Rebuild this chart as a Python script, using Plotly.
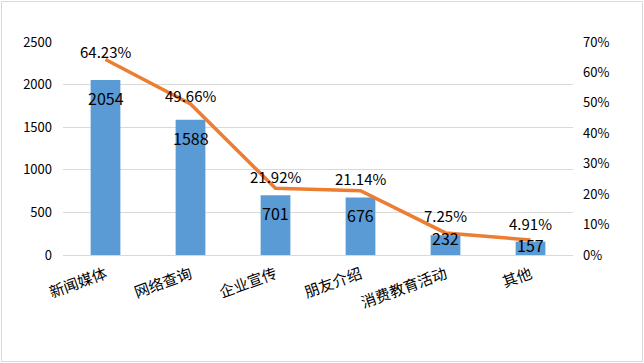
import plotly.graph_objects as go

categories = ["新闻媒体", "网络查询", "企业宣传", "朋友介绍", "消费教育活动", "其他"]
counts = [2054, 1588, 701, 676, 232, 157]
percents = [0.6423, 0.4966, 0.2192, 0.2114, 0.0725, 0.0491]
pct_labels = ["64.23%", "49.66%", "21.92%", "21.14%", "7.25%", "4.91%"]

font_family = "Noto Sans CJK SC, Microsoft YaHei, sans-serif"

fig = go.Figure()
fig.add_trace(go.Bar(
    x=categories, y=counts,
    marker=dict(color="#5B9BD5", line=dict(width=0)),
    yaxis="y", showlegend=False, hoverinfo="x+y",
))
fig.add_trace(go.Scatter(
    x=categories, y=percents, mode="lines",
    line=dict(color="#ED7D31", width=3.5),
    cliponaxis=False, yaxis="y2", showlegend=False,
))

annotations = []
# bar value labels: inside the top of the bar; short bars keep the label on the bar top
for cat, val in zip(categories, counts):
    shift = -18 if val > 400 else -3
    annotations.append(dict(
        x=cat, y=val, xref="x", yref="y", text=str(val), showarrow=False,
        yshift=shift, font=dict(size=16, color="#000000", family=font_family),
    ))
# line value labels above the points
for cat, p, lab in zip(categories, percents, pct_labels):
    if p > 0.4:
        shift = 8
    elif p > 0.15:
        shift = 12
    else:
        shift = 17
    annotations.append(dict(
        x=cat, y=p, xref="x", yref="y2", text=lab, showarrow=False,
        yshift=shift, font=dict(size=15, color="#000000", family=font_family),
    ))

fig.update_layout(
    width=644, height=363,
    margin=dict(l=63, r=71, t=42, b=108),
    paper_bgcolor="white", plot_bgcolor="white",
    bargap=0.65,
    font=dict(family=font_family, color="#000000"),
    annotations=annotations,
    xaxis=dict(
        tickangle=-20, tickfont=dict(size=15, family=font_family),
        showgrid=False, showline=True, linecolor="#D9D9D9", linewidth=1,
        ticks="", automargin=False, ticklabelstandoff=4,
    ),
    yaxis=dict(
        range=[0, 2500], dtick=500, tickfont=dict(size=13, family=font_family),
        showgrid=True, gridcolor="#D9D9D9", gridwidth=1, zeroline=False,
        ticklabelstandoff=10, automargin=False,
    ),
    yaxis2=dict(
        range=[0, 0.7], dtick=0.1, tickformat=".0%", overlaying="y", side="right",
        tickfont=dict(size=13, family=font_family), showgrid=False, zeroline=False,
        ticklabelstandoff=9, automargin=False,
    ),
    shapes=[dict(type="rect", xref="paper", yref="paper",
                 x0=-61.5/510, x1=579.5/510, y0=-106.5/213, y1=253.5/213,
                 line=dict(color="#D9D9D9", width=1))],
)

fig.write_html("out.html", config={"displayModeBar": False},
               post_script="document.body.style.margin='0';document.body.style.overflow='hidden';")
